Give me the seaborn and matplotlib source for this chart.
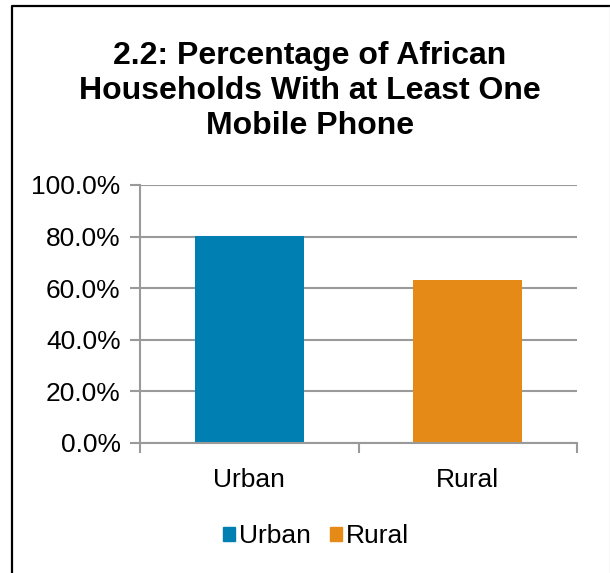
import matplotlib
matplotlib.use("Agg")
import matplotlib.pyplot as plt
import matplotlib.patches as mpatches
from matplotlib.lines import Line2D
import seaborn as sns
import pandas as pd

categories = ["Urban", "Rural"]
values = [80.2, 63.2]
colors = ["#007FB2", "#E68A17"]
yticks = [0, 20, 40, 60, 80, 100]
title = "2.2: Percentage of African\nHouseholds With at Least One\nMobile Phone"

sns.set_theme(style="white")
plt.rcParams["font.family"] = ["Liberation Sans", "DejaVu Sans"]
plt.rcParams["text.color"] = "black"

df = pd.DataFrame({"area": categories, "pct": values})

W, H = 610, 573
fig = plt.figure(figsize=(W / 100, H / 100), dpi=100)
ax = fig.add_axes([140 / W, 1 - 443 / H, (577 - 140) / W, (443 - 185) / H])

sns.barplot(data=df, x="area", y="pct", hue="area", palette=colors,
            width=0.5, saturation=1, legend=False, linewidth=0, ax=ax)

ax.set_ylim(0, 100)
ax.set_xlim(-0.5, 1.5)
ax.set_yticks(yticks)
ax.set_yticklabels([f"{v:.1f}%" for v in yticks], fontsize=19, color="black")
ax.set_xticks([0, 1])
ax.set_xticklabels(categories, fontsize=19, color="black")
ax.set_xlabel("")
ax.set_ylabel("")

grid_c = "#9A9A9A"
ax.yaxis.grid(True, color=grid_c, linewidth=1.5)
ax.set_axisbelow(True)
for side in ["top", "right"]:
    ax.spines[side].set_visible(False)
for side in ["left", "bottom"]:
    ax.spines[side].set_color(grid_c)
    ax.spines[side].set_linewidth(1.5)

ax.tick_params(axis="y", which="major", left=True, length=7, width=1.5,
               color=grid_c, pad=7)
ax.tick_params(axis="x", which="major", bottom=False, pad=12)
# category boundary ticks on the x axis
ax.set_xticks([-0.5, 0.5, 1.5], minor=True)
ax.tick_params(axis="x", which="minor", bottom=True, length=7, width=1.5,
               color=grid_c)

fig.text(310 / W, 1 - 91 / H, title, ha="center", va="center", color="black",
         fontsize=23, fontweight="bold", linespacing=1.2)

handles = [mpatches.Patch(color=c, label=l) for c, l in zip(colors, categories)]
fig.legend(handles=handles, loc="center", bbox_to_anchor=(316 / W, 1 - 536 / H),
           ncol=2, frameon=False, fontsize=19, handlelength=0.45,
           handleheight=0.45, handletextpad=0.15, columnspacing=0.75,
           labelcolor="black")

# chart frame: left and top edges in black, faint right edge
fig.add_artist(Line2D([11.5 / W, 11.5 / W, 1], [0, 1 - 5.5 / H, 1 - 5.5 / H],
                      transform=fig.transFigure, color="black", linewidth=1.6))
fig.add_artist(Line2D([609.5 / W, 609.5 / W], [0, 1 - 6 / H],
                      transform=fig.transFigure, color="#DDDDDD", linewidth=1))

fig.savefig("out.png", dpi=100)
